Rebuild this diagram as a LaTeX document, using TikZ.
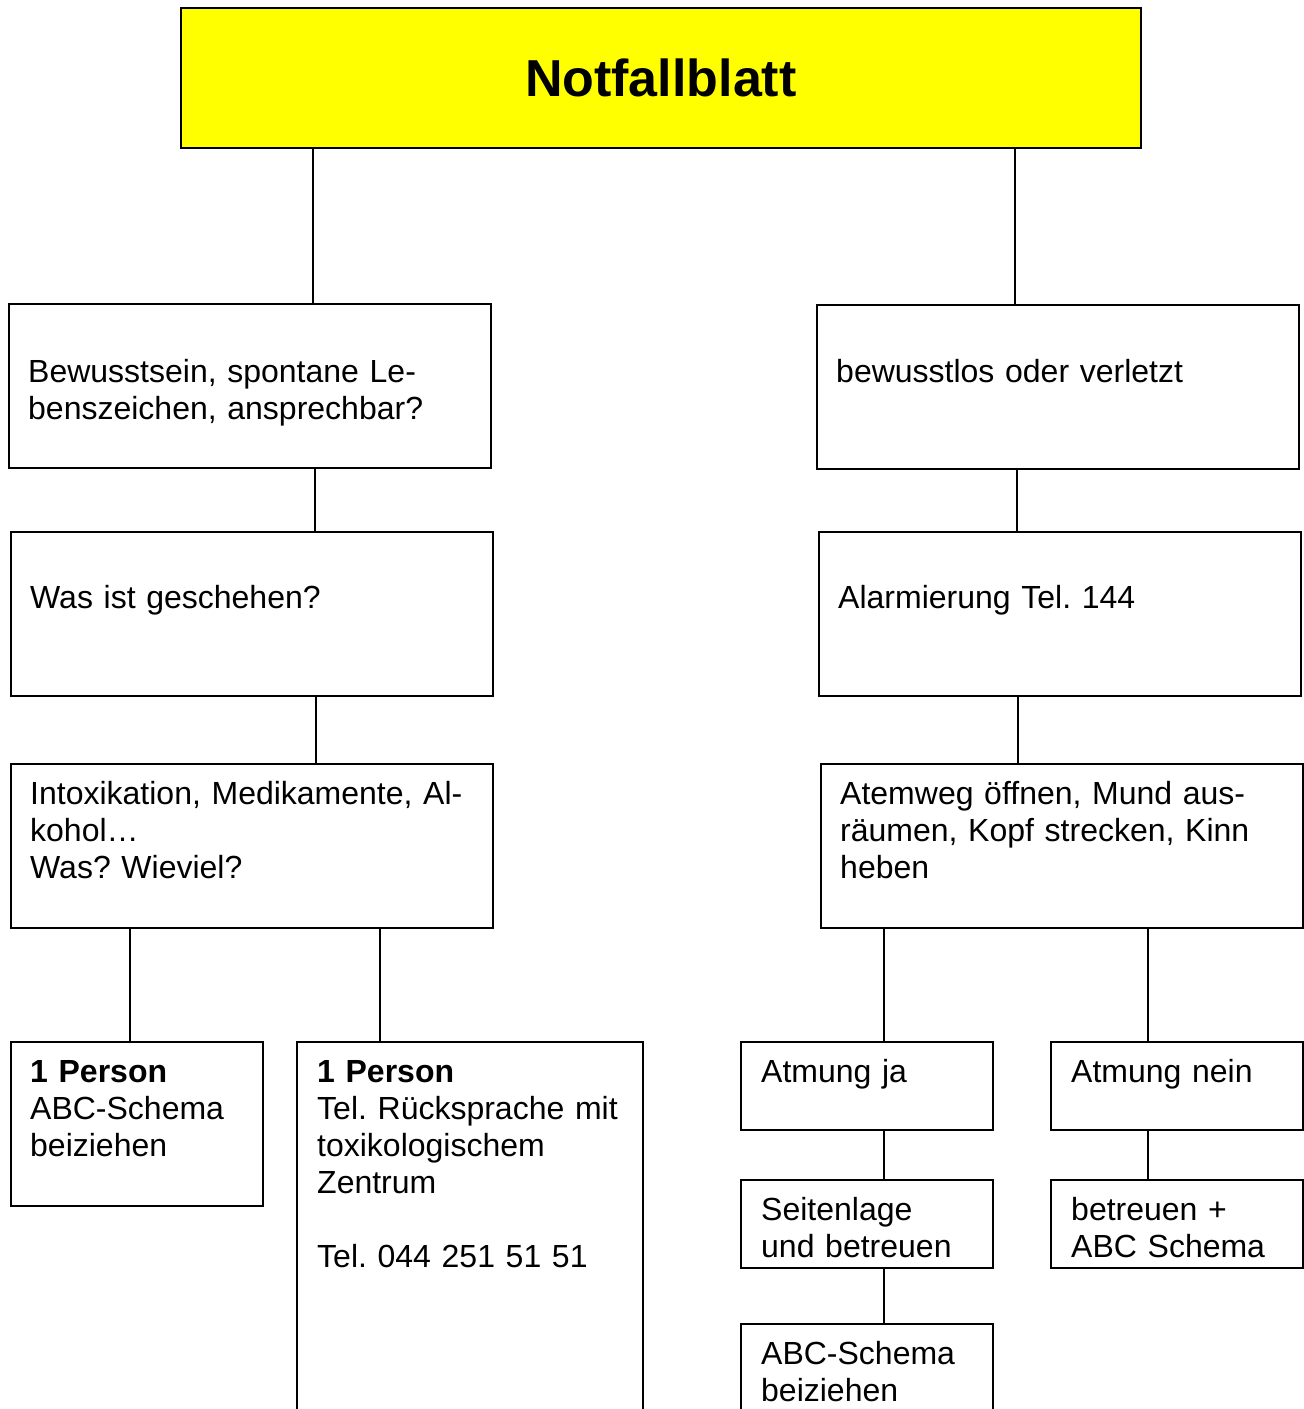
\documentclass[tikz,border=0pt]{standalone}
\usepackage{fontspec}
\setmainfont{Liberation Sans}
\definecolor{titleyellow}{RGB}{255,255,0}
\frenchspacing
\begin{document}
\begin{tikzpicture}[x=1pt,y=-1pt,
  box/.style={draw=black, line width=1.6pt, inner sep=0pt, anchor=north west, rectangle},
  txt/.style={inner sep=0pt, anchor=base west, text width=460pt, align=left,
    font=\fontsize{32}{37}\selectfont},
  conn/.style={line width=1.6pt}]
\useasboundingbox (0,0) rectangle (1304,1409);
\clip (0,0) rectangle (1304,1409);
\fill[white] (0,0) rectangle (1304,1409);
% boxes
\node[box, fill=titleyellow, minimum width=960pt, minimum height=140pt,
  font=\fontsize{52}{60}\selectfont\bfseries] (title) at (180,7) {Notfallblatt};
\node[box, minimum width=482pt, minimum height=164pt] (l1) at (8,303) {};
\node[box, minimum width=482pt, minimum height=164pt] (r1) at (816,304) {};
\node[box, minimum width=482pt, minimum height=164pt] (l2) at (10,531) {};
\node[box, minimum width=482pt, minimum height=164pt] (r2) at (818,531) {};
\node[box, minimum width=482pt, minimum height=164pt] (l3) at (10,763) {};
\node[box, minimum width=482pt, minimum height=164pt] (r3) at (820,763) {};
\node[box, minimum width=252pt, minimum height=164pt] (l4a) at (10,1041) {};
\node[box, minimum width=346pt, minimum height=420pt] (l4b) at (296,1041) {};
\node[box, minimum width=252pt, minimum height=88pt] (r4a) at (740,1041) {};
\node[box, minimum width=252pt, minimum height=88pt] (r4b) at (1050,1041) {};
\node[box, minimum width=252pt, minimum height=88pt] (r5a) at (740,1179) {};
\node[box, minimum width=252pt, minimum height=88pt] (r5b) at (1050,1179) {};
\node[box, minimum width=252pt, minimum height=140pt] (r6a) at (740,1323) {};
% texts
\node[txt] (l1t) at (28,382) {Bewusstsein, spontane Le-\\benszeichen, ansprechbar?};
\node[txt] (r1t) at (836,382) {bewusstlos oder verletzt};
\node[txt] (l2t) at (30,608) {Was ist geschehen?};
\node[txt] (r2t) at (838,608) {Alarmierung Tel. 144};
\node[txt] (l3t) at (30,804) {Intoxikation, Medikamente, Al-\\kohol…\\Was? Wieviel?};
\node[txt] (r3t) at (840,804) {Atemweg öffnen, Mund aus-\\räumen, Kopf strecken, Kinn\\heben};
\node[txt] (l4at) at (30,1082) {\textbf{1 Person}\\ABC-Schema\\beiziehen};
\node[txt] (l4bt) at (317,1082) {\textbf{1 Person}\\Tel. Rücksprache mit\\toxikologischem\\Zentrum\\[37pt]Tel. 044 251 51 51};
\node[txt] (r4at) at (761,1082) {Atmung ja};
\node[txt] (r4bt) at (1071,1082) {Atmung nein};
\node[txt] (r5at) at (761,1220) {Seitenlage\\und betreuen};
\node[txt] (r5bt) at (1071,1220) {betreuen +\\ABC Schema};
\node[txt] (r6at) at (761,1364) {ABC-Schema\\beiziehen};
% connector x positions
\coordinate (xa) at (313,0);
\coordinate (xb) at (1015,0);
\coordinate (xc) at (315,0);
\coordinate (xd) at (1017,0);
\coordinate (xe) at (316,0);
\coordinate (xf) at (1018,0);
\coordinate (xg) at (130,0);
\coordinate (xh) at (380,0);
\coordinate (xi) at (884,0);
\coordinate (xj) at (1148,0);
% connectors
\draw[conn] (title.south -| xa) -- (l1.north -| xa);
\draw[conn] (title.south -| xb) -- (r1.north -| xb);
\draw[conn] (l1.south -| xc) -- (l2.north -| xc);
\draw[conn] (r1.south -| xd) -- (r2.north -| xd);
\draw[conn] (l2.south -| xe) -- (l3.north -| xe);
\draw[conn] (r2.south -| xf) -- (r3.north -| xf);
\draw[conn] (l3.south -| xg) -- (l4a.north -| xg);
\draw[conn] (l3.south -| xh) -- (l4b.north -| xh);
\draw[conn] (r3.south -| xi) -- (r4a.north -| xi);
\draw[conn] (r3.south -| xj) -- (r4b.north -| xj);
\draw[conn] (r4a.south -| xi) -- (r5a.north -| xi);
\draw[conn] (r5a.south -| xi) -- (r6a.north -| xi);
\draw[conn] (r4b.south -| xj) -- (r5b.north -| xj);
\end{tikzpicture}
\end{document}
